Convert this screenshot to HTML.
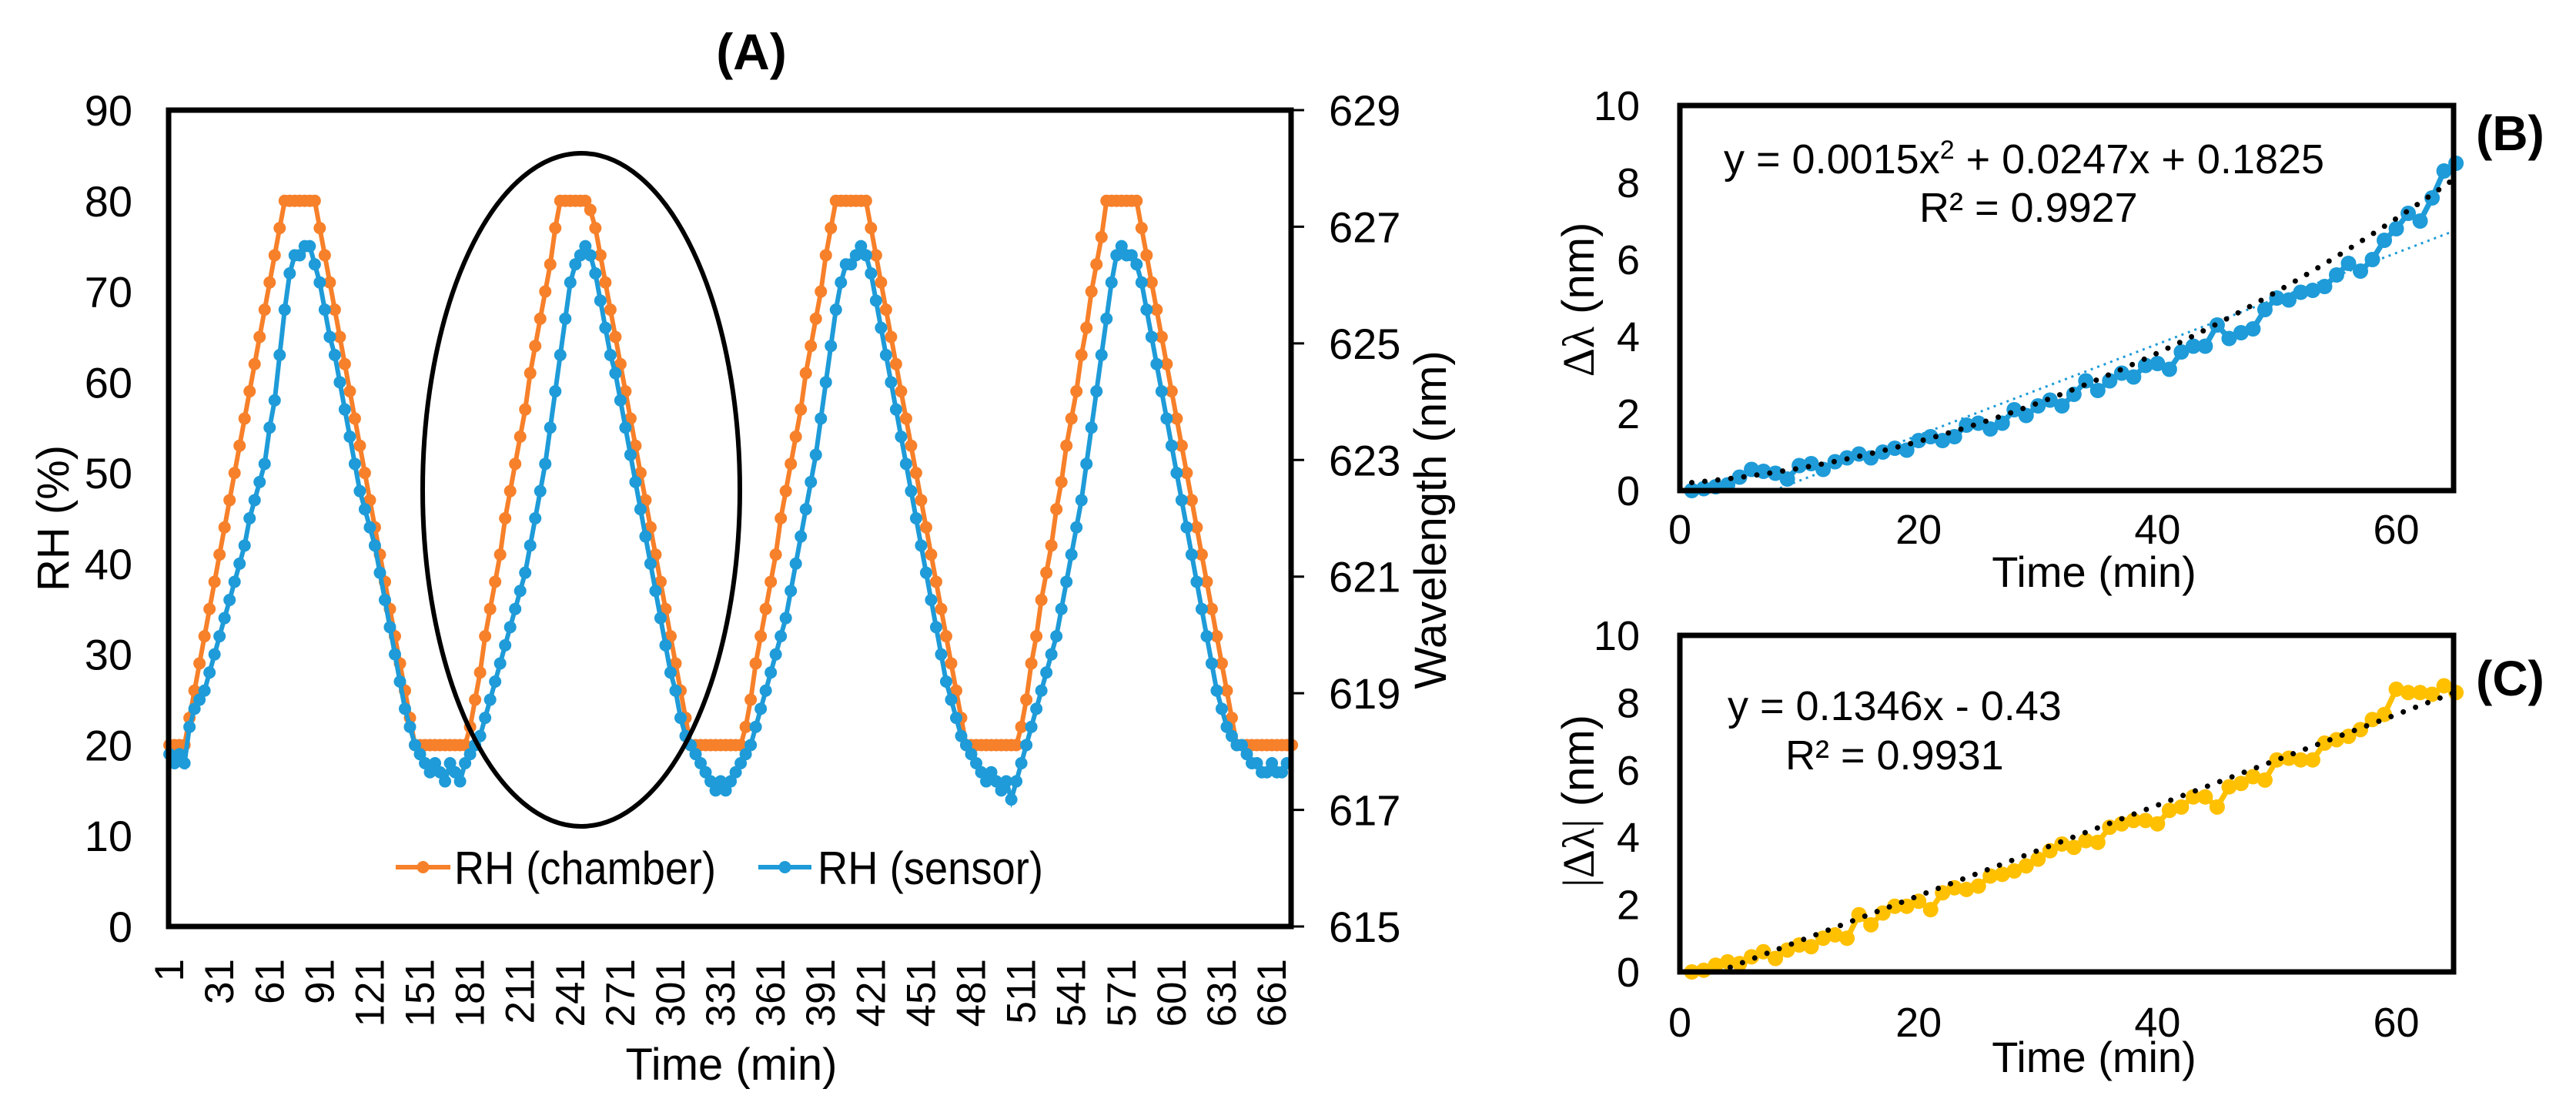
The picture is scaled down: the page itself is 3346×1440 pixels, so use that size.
<!DOCTYPE html>
<html><head><meta charset="utf-8"><style>
html,body{margin:0;padding:0;background:#fff;}
svg{display:block;font-family:"Liberation Sans",Arial,sans-serif;}
</style></head><body>
<svg id="fig" width="3346" height="1440" viewBox="0 0 3346 1440" xmlns="http://www.w3.org/2000/svg">
<g id="pa"></g>
<g id="pb"></g>
<g id="pc"></g>
</svg>
<script>
// ---- Panel A data (sampled every 3 min, minute = 1 + 3*k) ----
const chamberRH = [20,20,20,20,23,26,29,32,35,38,41,44,47,50,53,56,59,62,65,68,71,74,77,80,80,80,80,80,80,80,
77,74,71,68,65,62,59,56,53,50,47,44,41,38,35,32,29,26,23,20,20,20,20,20,20,20,20,20,20,20,
22,25,28,32,35,38,41,45,48,51,54,57,61,64,67,70,73,77,80,80,80,80,80,80,79,
77,74,71,68,65,62,59,56,53,50,47,44,41,38,35,32,29,26,23,20,20,20,20,20,20,20,20,20,20,20,
22,25,29,32,35,38,41,45,48,51,54,57,61,64,67,70,74,77,80,80,80,80,80,80,80,
77,74,71,68,65,62,59,56,53,50,47,44,41,38,35,32,29,26,23,20,20,20,20,20,20,20,20,20,20,20,
22,25,29,32,36,39,42,46,49,53,56,59,63,66,70,73,76,80,80,80,80,80,80,80,
77,74,71,68,65,62,59,56,53,50,47,44,41,38,35,32,29,26,23,20,20,20,20,20,20,20,20,20,20,20,20];
const sensorRH = [19,18,19,18,22,24,25,26,28,30,32,34,36,38,40,42,45,47,49,51,55,58,63,68,72,74,74,75,75,73,
71,68,65,63,60,57,54,51,48,46,44,42,39,36,33,30,27,24,22,20,19,18,17,18,17,16,18,17,16,18,
19,20,21,23,25,27,29,31,33,35,37,39,42,45,48,51,55,59,63,67,71,73,74,75,74,72,69,66,63,61,
58,55,52,49,46,43,40,37,34,31,28,26,23,21,20,19,18,17,16,15,16,15,16,17,18,
19,20,22,24,26,28,30,32,34,37,40,43,46,49,52,56,60,64,68,71,73,73,74,75,74,72,69,66,63,60,
57,54,51,48,45,42,39,36,33,30,27,25,23,21,20,19,18,17,16,17,16,15,16,14,16,
18,20,22,24,26,28,30,32,35,38,41,44,47,51,55,59,63,67,71,74,75,74,74,73,71,68,65,62,59,56,
53,50,47,44,41,38,35,32,29,26,24,22,21,20,20,19,18,18,17,17,18,17,17,18];
const catTicks = [1,31,61,91,121,151,181,211,241,271,301,331,361,391,421,451,481,511,541,571,601,631,661];
const leftTicks = [0,10,20,30,40,50,60,70,80,90];
const rightTicks = [615,617,619,621,623,625,627,629];
const legendLabels = ["RH (chamber)","RH (sensor)"];

// ---- Panel B / C data ----
const timeBC = [1,2,3,4,5,6,7,8,9,10,11,12,13,14,15,16,17,18,19,20,21,22,23,24,25,26,27,28,29,30,31,32,33,34,35,36,37,38,39,40,41,42,43,44,45,46,47,48,49,50,51,52,53,54,55,56,57,58,59,60,61,62,63,64,65];
const shiftB = [0,0.05,0.1,0.15,0.35,0.55,0.5,0.45,0.3,0.65,0.7,0.55,0.75,0.85,0.95,0.85,1.0,1.1,1.05,1.3,1.4,1.3,1.4,1.7,1.75,1.6,1.75,2.1,1.95,2.2,2.35,2.2,2.5,2.85,2.6,2.85,3.05,2.95,3.25,3.3,3.15,3.6,3.75,3.75,4.3,3.95,4.1,4.2,4.7,5.0,4.95,5.15,5.2,5.3,5.6,5.9,5.7,6.0,6.5,6.8,7.2,7.0,7.6,8.3,8.5];
const shiftC = [0,0.05,0.2,0.3,0.25,0.45,0.6,0.4,0.65,0.8,0.75,1.0,1.1,1.0,1.7,1.4,1.75,1.95,1.95,2.1,1.85,2.35,2.5,2.45,2.55,2.85,2.9,3.0,3.15,3.35,3.6,3.8,3.7,3.9,3.85,4.3,4.4,4.5,4.5,4.4,4.8,4.9,5.2,5.2,4.9,5.5,5.6,5.8,5.7,6.3,6.35,6.3,6.3,6.8,6.9,7.0,7.2,7.5,7.65,8.4,8.3,8.3,8.25,8.5,8.3];
const fitB = [0.0015,0.0247,0.1825];
const fitC = [0.1346,-0.43];
const xTicksBC = [0,20,40,60];
const yTicksBC = [0,2,4,6,8,10];

const NS="http://www.w3.org/2000/svg";
function mk(parent,tag,attrs,text){const e=document.createElementNS(NS,tag);for(const k in attrs)e.setAttribute(k,attrs[k]);if(text!==undefined)e.textContent=text;parent.appendChild(e);return e;}

const ORANGE="#F7802A", BLUE="#1E9BD8", GOLD="#FFC000";

// ================= Panel A =================
const pa=document.getElementById('pa');
const AL=219,AR=1677,AT=143,AB=1203,NCAT=672;
const xA=i=>AL+(i-0.5)*(AR-AL)/NCAT;
const yA=v=>AB-(v/90)*(AB-AT);
const yR=w=>AB-((w-615)/14)*(AB-AT);
let t;
t=mk(pa,'text',{x:976,y:90,'text-anchor':'middle','font-size':66,'font-weight':'bold'},'(A)');

leftTicks.forEach(v=>{const e=mk(pa,'text',{x:172,y:yA(v)+20,'text-anchor':'end','font-size':56},String(v));
});
rightTicks.forEach(v=>{const l=mk(pa,'line',{x1:AR,x2:AR+17,y1:yR(v),y2:yR(v),stroke:'#000','stroke-width':3});

const e=mk(pa,'text',{x:1726,y:yR(v)+20,'font-size':56},String(v));
});
catTicks.forEach(c=>{const x=xA(c);const e=mk(pa,'text',{x:0,y:0,'text-anchor':'end','font-size':53,transform:`translate(${x+18},1245) rotate(-90)`},String(c));
});
t=mk(pa,'text',{x:950,y:1402,'text-anchor':'middle','font-size':58},'Time  (min)');

t=mk(pa,'text',{x:0,y:0,'text-anchor':'middle','font-size':58,transform:'translate(89,673) rotate(-90)'},'RH (%)');

t=mk(pa,'text',{x:0,y:0,'text-anchor':'middle','font-size':58,transform:'translate(1878,675) rotate(-90)'},'Wavelength (nm)');


function series(g,vals,color,name,r){
  const pts=vals.map((v,k)=>[xA(1+3*k),yA(v)]);
  const p=mk(g,'polyline',{points:pts.map(q=>q.join(',')).join(' '),fill:'none',stroke:color,'stroke-width':6});
  
  pts.forEach(q=>{const c=mk(g,'circle',{cx:q[0],cy:q[1],r:r,fill:color});
  });
}
series(pa,chamberRH,ORANGE,'chamber',8);
series(pa,sensorRH,BLUE,'sensor',8);
t=mk(pa,'rect',{x:AL,y:AT,width:AR-AL,height:AB-AT,fill:'none',stroke:'#000','stroke-width':7});

t=mk(pa,'ellipse',{cx:755,cy:636,rx:206,ry:437,fill:'none',stroke:'#000','stroke-width':6});

// legend
[[514,585,ORANGE,590,340],[985,1054,BLUE,1062,293]].forEach((L,j)=>{
  const g=mk(pa,'g',{});
  mk(g,'line',{x1:L[0],x2:L[1],y1:1126,y2:1126,stroke:L[2],'stroke-width':6});
  mk(g,'circle',{cx:(L[0]+L[1])/2,cy:1126,r:8,fill:L[2]});
  mk(g,'text',{x:L[3],y:1148,'font-size':60,textLength:L[4],lengthAdjust:'spacingAndGlyphs'},legendLabels[j]);
});

// ================= Panels B & C =================
function panel(g,top,bottom,vals,color,yTitle,letter,letterY,eqLines,xLblY,timeY,titleY){
  const L=2182,R=3187,XMAX=64.8;
  const x=v=>L+v/XMAX*(R-L);
  const y=v=>bottom-v/10*(bottom-top);
  yTicksBC.forEach(v=>{const e=mk(g,'text',{x:2130,y:y(v)+19,'text-anchor':'end','font-size':54},String(v));
  });
  xTicksBC.forEach(v=>{const e=mk(g,'text',{x:x(v),y:xLblY,'text-anchor':'middle','font-size':54},String(v));
  });
  let e=mk(g,'text',{x:2720,y:timeY,'text-anchor':'middle','font-size':56},'Time  (min)');
  
  e=mk(g,'text',{x:0,y:0,'text-anchor':'middle','font-size':58,transform:`translate(2070,${titleY}) rotate(-90)`});
  
  yTitle.forEach(s=>{mk(e,'tspan',{'font-family':s[1]?'"Liberation Serif",serif':'"Liberation Sans",sans-serif'},s[0]);});
  e=mk(g,'text',{x:3216,y:letterY,'font-size':64,'font-weight':'bold'},letter);
  
  eqLines.forEach(q=>{const te=mk(g,'text',{x:q[0],y:q[1],'font-size':54});
  
  q[2].forEach(s=>{mk(te,'tspan',s[1]?{'baseline-shift':'super','font-size':34}:{},s[0]);});});
  const pts=timeBC.map((tv,k)=>[x(tv),y(vals[k])]);
  const line=mk(g,'polyline',{points:pts.map(q=>q.join(',')).join(' '),fill:'none',stroke:color,'stroke-width':7});
  
  pts.forEach(q=>{const c=mk(g,'circle',{cx:q[0],cy:q[1],r:10,fill:color});
  });
  return {x,y,L,R};
}
const pb=document.getElementById('pb');
const B=panel(pb,137,637,shiftB,BLUE,[['Δλ',1],[' (nm)',0]],'(B)',195,
 [[2239,225,[['y = 0.0015x',0],['2',1],[' + 0.0247x + 0.1825',0]]],[2493,288,[['R² = 0.9927',0]]]],706,762,389);
(function(){const n=timeBC.length;let sx=0,sy=0,sxx=0,sxy=0;for(let k=0;k<n;k++){sx+=timeBC[k];sy+=shiftB[k];sxx+=timeBC[k]*timeBC[k];sxy+=timeBC[k]*shiftB[k];}
const m=(n*sxy-sx*sy)/(n*sxx-sx*sx),b=(sy-m*sx)/n;const x0=Math.max(timeBC[0],-b/m),x1=timeBC[n-1];
const l=mk(pb,'line',{x1:B.x(x0),y1:B.y(m*x0+b),x2:B.x(x1),y2:B.y(m*x1+b),stroke:BLUE,'stroke-width':3,'stroke-dasharray':'3 6'});
})();
(function(){const pts=[];for(let k=0;k<timeBC.length;k++){const tv=timeBC[k];pts.push(B.x(tv)+','+B.y(fitB[0]*tv*tv+fitB[1]*tv+fitB[2]));}
const p=mk(pb,'polyline',{points:pts.join(' '),fill:'none',stroke:'#000','stroke-width':7,'stroke-dasharray':'0 17','stroke-linecap':'round'});
})();
t=mk(pb,'rect',{x:2182,y:137,width:1005,height:500,fill:'none',stroke:'#000','stroke-width':7});


const pc=document.getElementById('pc');
const C=panel(pc,825,1262,shiftC,GOLD,[['|Δλ|',1],[' (nm)',0]],'(C)',903,
 [[2244,935,[['y = 0.1346x - 0.43',0]]],[2319,999,[['R² = 0.9931',0]]]],1346,1392,1040);
(function(){const x0=Math.max(timeBC[0],-fitC[1]/fitC[0]),x1=timeBC[timeBC.length-1];
const l=mk(pc,'line',{x1:C.x(x0),y1:C.y(fitC[0]*x0+fitC[1]),x2:C.x(x1),y2:C.y(fitC[0]*x1+fitC[1]),stroke:'#000','stroke-width':7,'stroke-dasharray':'0 17','stroke-linecap':'round'});
})();
t=mk(pc,'rect',{x:2182,y:825,width:1005,height:437,fill:'none',stroke:'#000','stroke-width':7});

</script>
</body></html>
